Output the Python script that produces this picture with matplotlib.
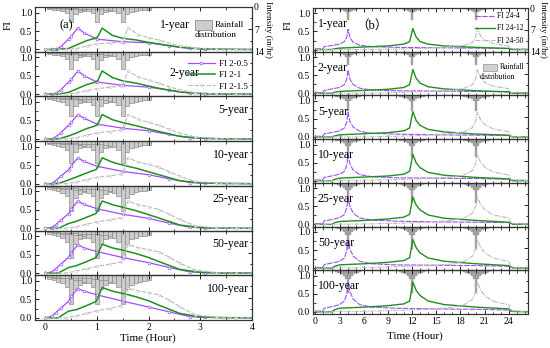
import matplotlib.pyplot as plt
from matplotlib.patches import Rectangle
from matplotlib.ticker import MultipleLocator, FormatStrFormatter

plt.rcParams['font.family'] = ['Liberation Serif', 'DejaVu Serif']
plt.rcParams['font.size'] = 7

years = ['1-year', '2-year', '5-year', '10-year', '25-year', '50-year', '100-year']
# depth of the hyetograph relative to the 1-year storm
rain_scale = [1.0, 1.15, 1.35, 1.5, 1.7, 1.85, 1.95]

# ---------------- (a) 2-hour storms ----------------
rain_t = [k / 12 for k in range(1, 25)]
rain_a1 = [0.6, 0.8, 1.0, 1.3, 1.9, 4.6, 2.2, 1.5, 1.2, 1.0, 0.9, 0.8,
           0.7, 0.6, 0.6, 0.5, 0.5, 0.5, 0.4, 0.4, 0.4, 0.4, 0.3, 0.3]
rain_a2 = [0.3, 0.4, 0.4, 0.5, 0.5, 0.6, 0.7, 0.8, 1.0, 1.3, 1.9, 4.6,
           2.2, 1.5, 1.2, 1.0, 0.9, 0.8, 0.7, 0.6, 0.5, 0.5, 0.4, 0.4]
rain_a3 = [0.3, 0.3, 0.3, 0.4, 0.4, 0.4, 0.4, 0.5, 0.5, 0.5, 0.6, 0.6,
           0.7, 0.8, 1.0, 1.3, 1.9, 4.6, 2.2, 1.5, 1.2, 1.0, 0.9, 0.8]

t_a05 = [0.0, 0.12, 0.2, 0.3, 0.45, 0.5, 0.63, 0.75, 1.0, 1.5, 2.0, 2.4, 2.8, 3.1, 4.0]
fi_a05 = [
    [0, 0, 0, 0.08, 0.28, 0.36, 0.58, 0.45, 0.28, 0.21, 0.18, 0.10, 0.03, 0.01, 0],
    [0, 0, 0.02, 0.12, 0.33, 0.40, 0.63, 0.50, 0.33, 0.24, 0.19, 0.11, 0.03, 0.01, 0],
    [0, 0, 0.05, 0.17, 0.37, 0.45, 0.66, 0.56, 0.40, 0.29, 0.22, 0.12, 0.03, 0.01, 0],
    [0, 0, 0.08, 0.20, 0.38, 0.48, 0.70, 0.60, 0.47, 0.33, 0.24, 0.13, 0.03, 0.01, 0],
    [0, 0.02, 0.10, 0.22, 0.40, 0.52, 0.74, 0.65, 0.53, 0.38, 0.27, 0.14, 0.03, 0.01, 0],
    [0, 0.03, 0.12, 0.24, 0.43, 0.55, 0.77, 0.68, 0.58, 0.42, 0.28, 0.15, 0.03, 0.01, 0],
    [0, 0.04, 0.14, 0.26, 0.45, 0.58, 0.79, 0.72, 0.62, 0.45, 0.29, 0.16, 0.03, 0.01, 0],
]

t_a1 = [0.0, 0.25, 0.45, 0.6, 0.8, 0.98, 1.02, 1.1, 1.3, 1.5, 1.75, 2.0, 2.2, 2.6, 3.0, 3.4, 4.0]
fi_a1 = [
    [0, 0, 0.03, 0.12, 0.24, 0.31, 0.36, 0.58, 0.38, 0.30, 0.26, 0.19, 0.15, 0.06, 0.02, 0.005, 0],
    [0, 0, 0.05, 0.14, 0.26, 0.33, 0.38, 0.63, 0.45, 0.36, 0.30, 0.22, 0.16, 0.06, 0.02, 0.005, 0],
    [0, 0, 0.08, 0.16, 0.28, 0.36, 0.42, 0.66, 0.52, 0.44, 0.36, 0.27, 0.20, 0.07, 0.02, 0.005, 0],
    [0, 0, 0.10, 0.18, 0.29, 0.38, 0.46, 0.70, 0.58, 0.50, 0.42, 0.32, 0.24, 0.08, 0.02, 0.005, 0],
    [0, 0, 0.13, 0.19, 0.30, 0.40, 0.50, 0.74, 0.64, 0.57, 0.48, 0.37, 0.28, 0.09, 0.02, 0.005, 0],
    [0, 0, 0.15, 0.20, 0.31, 0.42, 0.53, 0.78, 0.68, 0.62, 0.53, 0.42, 0.31, 0.10, 0.02, 0.005, 0],
    [0, 0, 0.18, 0.22, 0.33, 0.44, 0.55, 0.82, 0.72, 0.66, 0.57, 0.46, 0.34, 0.12, 0.02, 0.005, 0],
]

t_a15 = [0.0, 0.4, 0.6, 0.8, 1.0, 1.25, 1.47, 1.52, 1.6, 1.8, 2.0, 2.2, 2.4, 2.6, 2.9, 3.3, 3.7, 4.0]
fi_a15 = [
    [0, 0, 0.02, 0.10, 0.15, 0.18, 0.20, 0.28, 0.59, 0.40, 0.32, 0.25, 0.17, 0.10, 0.04, 0.01, 0, 0],
    [0, 0, 0.03, 0.10, 0.15, 0.19, 0.22, 0.33, 0.63, 0.47, 0.38, 0.30, 0.20, 0.12, 0.04, 0.01, 0, 0],
    [0, 0, 0.03, 0.10, 0.16, 0.20, 0.24, 0.37, 0.66, 0.53, 0.45, 0.37, 0.26, 0.16, 0.05, 0.01, 0, 0],
    [0, 0, 0.04, 0.11, 0.17, 0.21, 0.26, 0.40, 0.70, 0.58, 0.52, 0.44, 0.32, 0.20, 0.06, 0.01, 0, 0],
    [0, 0, 0.04, 0.11, 0.18, 0.23, 0.28, 0.44, 0.74, 0.64, 0.58, 0.51, 0.38, 0.24, 0.07, 0.01, 0, 0],
    [0, 0, 0.05, 0.12, 0.18, 0.24, 0.30, 0.47, 0.77, 0.69, 0.63, 0.57, 0.43, 0.27, 0.08, 0.01, 0, 0],
    [0, 0, 0.05, 0.12, 0.19, 0.25, 0.33, 0.50, 0.80, 0.73, 0.68, 0.62, 0.48, 0.30, 0.08, 0.01, 0, 0],
]

# ---------------- (b) 24-hour storms ----------------
rain_b_peaks = [4, 12, 20]
rain_b_off = [-1.5, -1.25, -1.0, -0.75, -0.5, -0.25, 0, 0.25, 0.5, 0.75, 1.0, 1.25, 1.5]
rain_b = [0.3, 0.4, 0.5, 0.6, 0.9, 1.4, 3.8, 1.4, 0.9, 0.6, 0.5, 0.4, 0.3]

t_b4 = [0, 0.9, 1.1, 2.0, 3.0, 3.6, 3.9, 4.05, 4.3, 4.7, 5.5, 7.0, 10.0, 15.0, 20.0, 24.0, 24.3, 26.5]
fi_b4 = [
    [0.02, 0.02, 0.08, 0.11, 0.15, 0.22, 0.35, 0.56, 0.32, 0.20, 0.12, 0.08, 0.06, 0.05, 0.04, 0.03, 0.01, 0.01],
    [0.02, 0.02, 0.08, 0.12, 0.16, 0.24, 0.40, 0.64, 0.38, 0.24, 0.14, 0.09, 0.07, 0.06, 0.05, 0.04, 0.01, 0.01],
    [0.02, 0.02, 0.09, 0.12, 0.17, 0.25, 0.42, 0.68, 0.42, 0.27, 0.16, 0.10, 0.08, 0.06, 0.05, 0.04, 0.01, 0.01],
    [0.02, 0.02, 0.09, 0.13, 0.18, 0.26, 0.44, 0.71, 0.45, 0.29, 0.17, 0.11, 0.08, 0.07, 0.06, 0.04, 0.01, 0.01],
    [0.02, 0.02, 0.10, 0.13, 0.19, 0.27, 0.46, 0.74, 0.49, 0.31, 0.18, 0.12, 0.09, 0.07, 0.06, 0.05, 0.01, 0.01],
    [0.02, 0.02, 0.10, 0.14, 0.19, 0.28, 0.48, 0.77, 0.52, 0.33, 0.19, 0.12, 0.09, 0.08, 0.07, 0.05, 0.01, 0.01],
    [0.02, 0.02, 0.10, 0.14, 0.20, 0.30, 0.50, 0.80, 0.55, 0.35, 0.20, 0.13, 0.10, 0.08, 0.07, 0.05, 0.01, 0.01],
]

t_b12 = [0, 2.0, 2.4, 3.0, 6.0, 9.0, 11.0, 11.7, 12.1, 12.5, 13.0, 14.0, 16.0, 20.0, 24.0, 24.5, 26.5]
fi_b12 = [
    [0, 0, 0.02, 0.04, 0.07, 0.10, 0.15, 0.22, 0.58, 0.35, 0.22, 0.15, 0.10, 0.06, 0.03, 0.0, 0],
    [0, 0, 0.03, 0.05, 0.08, 0.11, 0.16, 0.24, 0.66, 0.42, 0.28, 0.18, 0.12, 0.07, 0.04, 0.0, 0],
    [0, 0, 0.03, 0.06, 0.09, 0.12, 0.17, 0.25, 0.70, 0.46, 0.32, 0.21, 0.14, 0.08, 0.05, 0.0, 0],
    [0, 0, 0.04, 0.07, 0.10, 0.13, 0.18, 0.26, 0.73, 0.50, 0.36, 0.23, 0.15, 0.09, 0.05, 0.0, 0],
    [0, 0, 0.05, 0.08, 0.11, 0.15, 0.20, 0.28, 0.76, 0.54, 0.40, 0.26, 0.17, 0.11, 0.06, 0.01, 0],
    [0, 0, 0.05, 0.09, 0.12, 0.16, 0.21, 0.29, 0.79, 0.57, 0.42, 0.28, 0.19, 0.12, 0.07, 0.01, 0],
    [0, 0, 0.06, 0.10, 0.13, 0.17, 0.22, 0.30, 0.82, 0.60, 0.45, 0.30, 0.20, 0.13, 0.08, 0.01, 0],
]

t_b20 = [0, 6.0, 10.0, 14.0, 17.0, 18.5, 19.5, 19.9, 20.1, 20.5, 21.0, 22.0, 23.0, 24.0, 24.3, 26.5]
fi_b20 = [
    [0, 0, 0.01, 0.04, 0.08, 0.12, 0.20, 0.35, 0.60, 0.38, 0.26, 0.17, 0.13, 0.10, 0.02, 0],
    [0, 0, 0.02, 0.05, 0.09, 0.14, 0.24, 0.40, 0.65, 0.44, 0.31, 0.20, 0.16, 0.13, 0.02, 0],
    [0, 0, 0.02, 0.05, 0.10, 0.15, 0.26, 0.44, 0.69, 0.48, 0.35, 0.23, 0.18, 0.15, 0.02, 0],
    [0, 0.01, 0.03, 0.06, 0.10, 0.16, 0.28, 0.47, 0.72, 0.52, 0.38, 0.25, 0.20, 0.16, 0.03, 0],
    [0, 0.01, 0.03, 0.06, 0.11, 0.18, 0.31, 0.50, 0.76, 0.56, 0.41, 0.27, 0.22, 0.18, 0.03, 0],
    [0, 0.01, 0.04, 0.07, 0.11, 0.19, 0.33, 0.53, 0.79, 0.59, 0.43, 0.29, 0.23, 0.19, 0.03, 0],
    [0, 0.01, 0.04, 0.07, 0.12, 0.20, 0.35, 0.55, 0.82, 0.62, 0.45, 0.30, 0.24, 0.20, 0.03, 0],
]

PURPLE = '#a24cff'
GREEN = '#1f8f1f'
GREY = '#b8b8b8'

W, H = 550, 348
fig = plt.figure(figsize=(5.5, 3.48), dpi=100)


def stack(x0, x1, ytop, ybot):
    h = (ybot - ytop) / 7
    out = []
    for i in range(7):
        top = ytop + i * h
        out.append(fig.add_axes([x0 / W, 1 - (top + h) / H, (x1 - x0) / W, h / H]))
    return out


def style(ax, axr, i, xlim, major, minor):
    ax.set_zorder(axr.get_zorder() + 1)
    ax.patch.set_visible(False)
    ax.set_xlim(*xlim)
    ax.set_ylim(-0.06, 1.15)
    ax.xaxis.set_major_locator(MultipleLocator(major))
    ax.xaxis.set_minor_locator(MultipleLocator(minor))
    ax.yaxis.set_major_locator(MultipleLocator(0.5))
    ax.yaxis.set_minor_locator(MultipleLocator(0.25))
    ax.yaxis.set_major_formatter(FormatStrFormatter('%.1f'))
    ax.tick_params(which='both', direction='in', top=True, right=False, labelsize=7, pad=2)
    ax.tick_params(which='major', length=3, width=0.6)
    ax.tick_params(which='minor', length=1.8, width=0.5)
    if i < 6:
        ax.tick_params(labelbottom=False)
    axr.set_ylim(14, 0)
    axr.set_yticks([0, 7, 14])
    axr.yaxis.set_minor_locator(MultipleLocator(3.5))
    axr.tick_params(which='both', direction='in', labelsize=7, pad=1.5, width=0.6)
    axr.tick_params(which='major', length=3)
    axr.tick_params(which='minor', length=1.8)
    if i > 0:
        axr.tick_params(labelright=False)
    for a in (ax, axr):
        for s in a.spines.values():
            s.set_linewidth(0.8)
            s.set_color('#333333')


# ---------------- panel (a) ----------------
axes_a = stack(35, 252, 7, 320)
for i, ax in enumerate(axes_a):
    axr = ax.twinx()
    for rain in (rain_a1, rain_a2, rain_a3):
        axr.bar(rain_t, [v * rain_scale[i] for v in rain], width=1 / 12,
                color='#cccccc', edgecolor='#8c8c8c', linewidth=0.5)
    ax.plot(t_a05, fi_a05[i], color=PURPLE, lw=0.9, marker='o', ms=2, mfc='white',
            mew=0.5, label='FI 2-0.5')
    ax.plot(t_a1, fi_a1[i], color=GREEN, lw=1.1, label='FI 2-1')
    ax.plot(t_a15, fi_a15[i], color=GREY, lw=0.8, ls=(0, (4, 1.5)), marker='o', ms=1.5,
            mfc='white', mew=0.4, label='FI 2-1.5')
    style(ax, axr, i, (-0.2, 4.0), 1, 0.5)
    if i == 0:
        ax.text(0.714, 0.6, years[i], transform=ax.transAxes, ha='right', va='center', fontsize=8.5)
    elif i == 1:
        ax.text(0.76, 0.53, years[i], transform=ax.transAxes, ha='right', va='center', fontsize=8.5)
        ax.legend(loc='upper right', bbox_to_anchor=(1.0, 0.93), frameon=False, fontsize=6.5,
                  handlelength=3.0, labelspacing=0.35, borderaxespad=0.1, handletextpad=0.4)
    else:
        ax.text(0.985, 0.7, years[i], transform=ax.transAxes, ha='right', va='center', fontsize=8.5)

a0 = axes_a[0]
a0.text(0.115, 0.6, '(a)', transform=a0.transAxes, ha='left', va='center', fontsize=9)
a0.add_patch(Rectangle((0.737, 0.49), 0.078, 0.22, transform=a0.transAxes,
                       facecolor='#cccccc', edgecolor='#8c8c8c', lw=0.6))
a0.text(0.83, 0.6, 'Rainfall', transform=a0.transAxes, ha='left', va='center', fontsize=6.5)
a0.text(0.737, 0.38, 'distribution', transform=a0.transAxes, ha='left', va='center', fontsize=6.5)

# ---------------- panel (b) ----------------
axes_b = stack(313, 528, 8, 314)
for i, ax in enumerate(axes_b):
    axr = ax.twinx()
    for p in rain_b_peaks:
        axr.bar([p + o for o in rain_b_off], [v * rain_scale[i] for v in rain_b], width=0.25,
                color='#9f9f9f', edgecolor='#9f9f9f', linewidth=0.3)
    ax.plot(t_b4, fi_b4[i], color=PURPLE, lw=0.8, ls=(0, (5, 1)), label='FI 24-4')
    ax.plot(t_b12, fi_b12[i], color=GREEN, lw=1.0, label='FI 24-12')
    ax.plot(t_b20, fi_b20[i], color=GREY, lw=0.8, ls=(0, (4, 1, 1, 1)), label='FI 24-50')
    style(ax, axr, i, (-0.3, 26.4), 3, 1)
    ax.text(0.023, 0.63, years[i], transform=ax.transAxes, ha='left', va='center', fontsize=8.5)
    if i == 0:
        ax.legend(loc='upper right', bbox_to_anchor=(1.0, 1.0), frameon=False, fontsize=5.5,
                  handlelength=2.6, labelspacing=0.55, borderaxespad=0.15, handletextpad=0.3)

b0 = axes_b[0]
b0.text(0.2, 0.6, '（b）', transform=b0.transAxes, ha='left', va='center', fontsize=9,
        family=['Liberation Serif', 'Noto Sans CJK SC'])
b1 = axes_b[1]
b1.add_patch(Rectangle((0.79, 0.55), 0.065, 0.16, transform=b1.transAxes,
                       facecolor='#d0d0d0', edgecolor='#a0a0a0', lw=0.6))
b1.text(0.87, 0.64, 'Rainfall', transform=b1.transAxes, ha='left', va='center', fontsize=5.5)
b1.text(0.777, 0.43, 'distribution', transform=b1.transAxes, ha='left', va='center', fontsize=5.5)

# ---------------- labels ----------------
fig.text(8 / W, 1 - 25 / H, 'FI', rotation=90, ha='center', va='center', fontsize=8)
fig.text(288 / W, 1 - 25 / H, 'FI', rotation=90, ha='center', va='center', fontsize=8)
fig.text(268 / W, 1 - 29 / H, 'Intensity (in/hr)', rotation=270, ha='center', va='center', fontsize=6.5)
fig.text(543 / W, 1 - 29 / H, 'Intensity (in/hr)', rotation=270, ha='center', va='center', fontsize=6.5)
fig.text(148 / W, 1 - 338 / H, 'Time (Hour)', ha='center', va='center', fontsize=8)
fig.text(415 / W, 1 - 336 / H, 'Time (Hour)', ha='center', va='center', fontsize=8)

fig.savefig('out.png', dpi=100)
